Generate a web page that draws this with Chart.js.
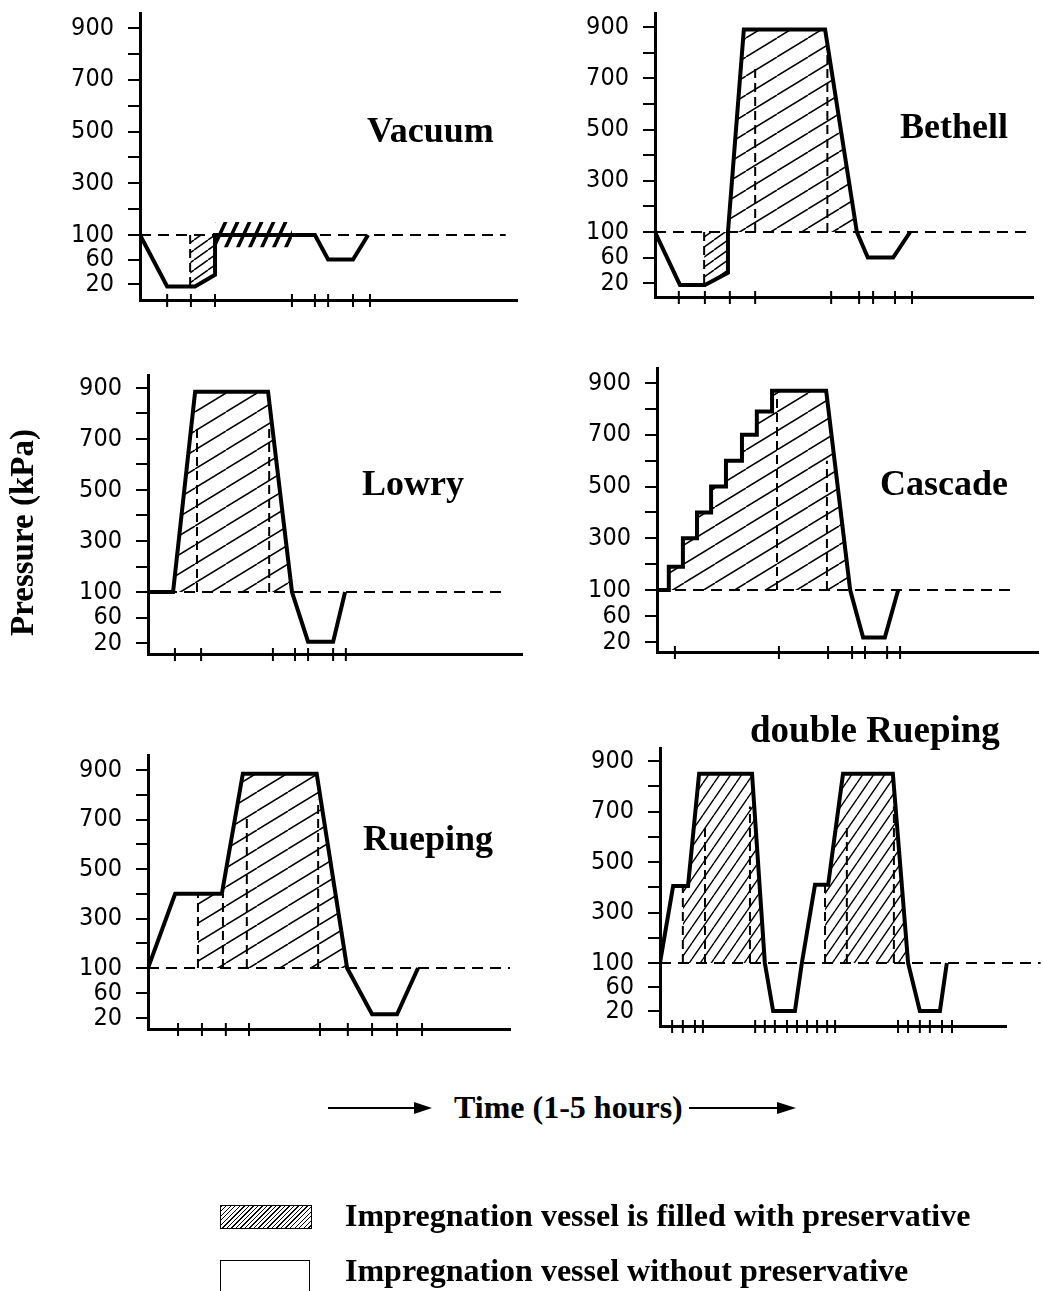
<!DOCTYPE html>
<html>
<head>
<meta charset="utf-8">
<script src="https://cdn.jsdelivr.net/npm/chart.js@4.4.1/dist/chart.umd.min.js"></script>
<style>
  body { margin: 0; background: #fff; }
  #page { position: relative; width: 1043px; height: 1291px; overflow: hidden; background: #fff; }
  #page canvas { position: absolute; }
  .txt { position: absolute; font-family: "Liberation Serif", "Times New Roman", serif; font-weight: bold; color: #000; white-space: nowrap; }
  .title { font-size: 36px; line-height: 36px; }
  .box { position: absolute; border: 1.5px solid #000; box-sizing: border-box; }
</style>
</head>
<body>
<div id="page">
  <div class="txt title" style="left:367px; top:112px;">Vacuum</div>
  <div class="txt title" style="left:900px; top:108px;">Bethell</div>
  <div class="txt title" style="left:362px; top:465px;">Lowry</div>
  <div class="txt title" style="left:880px; top:465px;">Cascade</div>
  <div class="txt title" style="left:363px; top:820px;">Rueping</div>
  <div class="txt title" style="left:750px; top:711px; font-size:37px; line-height:37px;">double Rueping</div>

  <div class="txt" style="left:-82px; top:516px; width:208px; font-size:33px; line-height:33px; text-align:center; transform:rotate(-90deg);">Pressure (kPa)</div>
  <div class="txt" style="left:454px; top:1091px; font-size:32px; line-height:32px;">Time (1-5 hours)</div>
  <svg style="position:absolute; left:0; top:0;" width="1043" height="1291">
    <line x1="328" y1="1108" x2="418" y2="1108" stroke="#000" stroke-width="2"/>
    <polygon points="414,1102 432,1108 414,1114" fill="#000"/>
    <line x1="689" y1="1108" x2="780" y2="1108" stroke="#000" stroke-width="2"/>
    <polygon points="777,1102 796,1108 777,1114" fill="#000"/>
  </svg>

  <div class="box" style="left:220px; top:1205px; width:92px; height:24px; background:repeating-linear-gradient(135deg, #000 0 1px, #fff 1px 3.2px);"></div>
  <div class="txt" style="left:345px; top:1199px; font-size:32px; line-height:32px;">Impregnation vessel is filled with preservative</div>
  <div class="box" style="left:220px; top:1260px; width:90px; height:45px;"></div>
  <div class="txt" style="left:345px; top:1254px; font-size:32px; line-height:32px;">Impregnation vessel without preservative</div>
</div>
<script>
// y axis: tick marks every 100 kPa plus 60 and 20, numbers only on some
var pressureTicks = [900, 800, 700, 600, 500, 400, 300, 200, 100, 60, 20];
var pressureLabels = [900, 700, 500, 300, 100, 60, 20];

// time runs 0..100 along each axis (schedule is schematic, 1-5 hours)
// Vacuum
var vacuumTime = [0, 7.2, 14.6, 19.9, 19.9, 46.4, 49.9, 56.5, 60.5];
var vacuumPressure = [100, 16, 16, 35, 100, 100, 60, 60, 100];
var vacuumFillTime = [13.3, 14.6, 19.9];
var vacuumFillPressure = [16, 16, 35];
var vacuumSurfaceTime = [19.9, 40.3];
var vacuumDashes = [[13.3, 16]];
var vacuumMarks = [7.2, 13.5, 19.9, 40.3, 46.4, 49.9, 56.5, 61.0];

// Bethell
var bethellTime = [0, 6.6, 13.2, 19.3, 19.3, 23.5, 45.0, 53.4, 56.3, 63.0, 67.5];
var bethellPressure = [100, 17, 17, 36, 100, 890, 890, 100, 60, 60, 100];
var bethellFillTime = [13.0, 13.2, 19.3];
var bethellFillPressure = [17, 17, 36];
var bethellPressTime = [19.3, 23.5, 45.0, 53.4];
var bethellPressPressure = [100, 890, 890, 100];
var bethellDashes = [[13.0, 17], [26.5, 740], [45.6, 840]];
var bethellMarks = [6.3, 13.2, 19.8, 26.5, 46.6, 54.0, 57.7, 63.5, 68.0];

// Lowry
var lowryTime = [0, 6.7, 12.6, 32.1, 38.5, 42.8, 49.5, 52.7];
var lowryPressure = [100, 100, 885, 885, 100, 22, 22, 100];
var lowryFillTime = [6.7, 12.6, 32.1, 38.5];
var lowryFillPressure = [100, 885, 885, 100];
var lowryDashes = [[13.1, 740], [32.4, 760]];
var lowryMarks = [7.2, 14.2, 33.4, 39.3, 42.8, 49.5, 52.9];

// Cascade
var cascadeTime = [0, 3.1, 3.1, 6.8, 6.8, 10.5, 10.5, 14.2, 14.2, 18.1, 18.1, 22.3, 22.3, 26.2, 26.2, 30.2, 30.2, 44.4, 50.7, 54.1, 59.8, 63.3];
var cascadePressure = [100, 100, 190, 190, 300, 300, 400, 400, 500, 500, 600, 600, 700, 700, 790, 790, 870, 870, 100, 27, 27, 100];
var cascadeFillTime = [3.1, 6.8, 6.8, 10.5, 10.5, 14.2, 14.2, 18.1, 18.1, 22.3, 22.3, 26.2, 26.2, 30.2, 30.2, 44.4, 50.7];
var cascadeFillPressure = [190, 190, 300, 300, 400, 400, 500, 500, 600, 600, 700, 700, 790, 790, 870, 870, 100];
var cascadeDashes = [[31.5, 860], [44.6, 600]];
var cascadeMarks = [4.7, 32.0, 44.9, 51.2, 54.6, 60.4, 63.8];

// Rueping
var ruepingTime = [0, 7.5, 20.4, 26.2, 46.6, 55.0, 61.9, 68.8, 74.6];
var ruepingPressure = [100, 400, 400, 885, 885, 100, 26, 26, 100];
var ruepingFillTime = [13.8, 20.4, 26.2, 46.6, 55.0];
var ruepingFillPressure = [400, 400, 885, 885, 100];
var ruepingDashes = [[13.8, 400], [20.7, 400], [27.3, 720], [47.0, 780]];
var ruepingMarks = [8.3, 14.9, 21.5, 27.9, 47.5, 55.2, 61.9, 68.8, 75.7];

// double Rueping
var doubleTime = [0, 3.8, 8.1, 11.3, 26.6, 30.3, 32.7, 39.0, 41.0, 44.8, 48.6, 52.9, 67.3, 71.7, 75.1, 80.9, 82.9];
var doublePressure = [100, 405, 405, 850, 850, 100, 20, 20, 100, 410, 410, 850, 850, 100, 20, 20, 100];
var doubleFill1Time = [6.6, 8.1, 11.3, 26.6, 30.3];
var doubleFill1Pressure = [405, 405, 850, 850, 100];
var doubleFill2Time = [47.7, 48.6, 52.9, 67.3, 71.7];
var doubleFill2Pressure = [410, 410, 850, 850, 100];
var doubleDashes = [[6.6, 405], [13.0, 650], [26.0, 720], [47.7, 410], [54.0, 650], [67.6, 720]];
var doubleMarks = [3.5, 6.6, 10.1, 12.4, 27.5, 30.3, 33.2, 36.7, 39.6, 42.5, 45.4, 48.3, 50.6, 68.8, 71.7, 75.1, 78.0, 81.5, 84.4];

// pressure scale: linear above 100 kPa, stretched below it so 60 and 20 have room
class PressureScale extends Chart.LinearScale {
  static id = 'pressure';
  static defaults = {};
  warp(v) {
    var k = this.options.lowStretch || 1;
    return v >= 100 ? v : 100 - (100 - v) * k;
  }
  unwarp(u) {
    var k = this.options.lowStretch || 1;
    return u >= 100 ? u : 100 - (100 - u) / k;
  }
  configure() {
    super.configure();
    this._startValue = this.warp(this.min);
    this._endValue = this.warp(this.max);
    this._valueRange = this._endValue - this._startValue;
  }
  getPixelForValue(v) {
    return v === null ? NaN : this.getPixelForDecimal((this.warp(v) - this._startValue) / this._valueRange);
  }
  getValueForPixel(px) {
    return this.unwarp(this._startValue + this.getDecimalForPixel(px) * this._valueRange);
  }
}
Chart.register(PressureScale);

// little tick strokes crossing the time axis
var timeMarks = {
  id: 'timeMarks',
  afterDatasetsDraw: function(chart, args, opts) {
    var xs = chart.scales.x, y0 = chart.chartArea.bottom, ctx = chart.ctx;
    ctx.save();
    ctx.strokeStyle = '#000';
    ctx.lineWidth = 2;
    (opts.marks || []).forEach(function(t) {
      var px = xs.getPixelForValue(t);
      ctx.beginPath();
      ctx.moveTo(px, y0 - 6);
      ctx.lineTo(px, y0 + 7);
      ctx.stroke();
    });
    ctx.restore();
  }
};

function hatch(w, h, lw) { // diagonal "/" hatching tile
  var c = document.createElement('canvas');
  c.width = w; c.height = h;
  var g = c.getContext('2d');
  g.strokeStyle = '#000';
  g.lineWidth = lw;
  g.beginPath();
  [-w, 0, w].forEach(function(dx) { g.moveTo(dx, h); g.lineTo(dx + w, 0); });
  g.stroke();
  return g.createPattern(c, 'repeat');
}

function pts(xs, ys) {
  return xs.map(function(x, i) { return {x: x, y: ys[i]}; });
}

function dashPts(list) {
  var out = [];
  list.forEach(function(d) {
    out.push({x: d[0], y: 100}, {x: d[0], y: d[1]}, {x: d[0], y: null});
  });
  return out;
}

var wide = hatch(31, 19, 1.5);
var fine = hatch(14, 10, 1.5);
var steep = hatch(11, 16, 1.4);
var surface = hatch(12, 26, 3.5);

// canvas box [left, top, w, h], plot area [left, top, right, bottom], pixel rows of 900/100/20
var panels = [
  {box: [40, 0, 500, 320], area: [140, 13, 517, 300], y900: 28, y100: 235, y20: 284, ref: 97,
   time: vacuumTime, pressure: vacuumPressure, dashes: vacuumDashes, marks: vacuumMarks,
   fills: [{time: vacuumFillTime, pressure: vacuumFillPressure, pattern: fine},
           {time: vacuumSurfaceTime, pressure: [150, 150], base: 80, pattern: surface}]},
  {box: [560, 0, 483, 320], area: [655, 13, 1033, 297], y900: 27, y100: 232, y20: 283, ref: 98.4,
   time: bethellTime, pressure: bethellPressure, dashes: bethellDashes, marks: bethellMarks,
   fills: [{time: bethellFillTime, pressure: bethellFillPressure, pattern: fine},
           {time: bethellPressTime, pressure: bethellPressPressure, pattern: wide}]},
  {box: [40, 355, 500, 320], area: [148, 375, 522, 654], y900: 388, y100: 592, y20: 643, ref: 96,
   time: lowryTime, pressure: lowryPressure, dashes: lowryDashes, marks: lowryMarks,
   fills: [{time: lowryFillTime, pressure: lowryFillPressure, pattern: wide}]},
  {box: [560, 355, 483, 320], area: [657, 368, 1038, 652], y900: 383, y100: 590, y20: 642, ref: 94,
   time: cascadeTime, pressure: cascadePressure, dashes: cascadeDashes, marks: cascadeMarks,
   fills: [{time: cascadeFillTime, pressure: cascadeFillPressure, pattern: wide}]},
  {box: [40, 735, 500, 320], area: [148, 755, 510, 1029], y900: 770, y100: 968, y20: 1018, ref: 100,
   time: ruepingTime, pressure: ruepingPressure, dashes: ruepingDashes, marks: ruepingMarks,
   fills: [{time: ruepingFillTime, pressure: ruepingFillPressure, pattern: wide}]},
  {box: [560, 735, 483, 320], area: [660, 748, 1006, 1026], y900: 761, y100: 963, y20: 1011, ref: 110,
   time: doubleTime, pressure: doublePressure, dashes: doubleDashes, marks: doubleMarks,
   fills: [{time: doubleFill1Time, pressure: doubleFill1Pressure, pattern: steep},
           {time: doubleFill2Time, pressure: doubleFill2Pressure, pattern: steep}]}
];

function drawPanel(p) {
  var cv = document.createElement('canvas');
  cv.width = p.box[2];
  cv.height = p.box[3];
  cv.style.left = p.box[0] + 'px';
  cv.style.top = p.box[1] + 'px';
  document.getElementById('page').insertBefore(cv, document.getElementById('page').firstChild);

  var s = (p.y100 - p.y900) / 800;          // px per kPa above 100
  var k = (p.y20 - p.y100) / 80 / s;        // stretch below 100
  var yMax = 900 + (p.y900 - p.area[1]) / s;
  var yMin = 20 - (p.area[3] - p.y20) / (s * k);

  var datasets = [{
    data: pts(p.time, p.pressure), borderColor: '#000', borderWidth: 4,
    borderJoinStyle: 'miter', fill: false, order: 0
  }, {
    data: dashPts(p.dashes), borderColor: '#000', borderWidth: 2,
    borderDash: [9, 5], fill: false, spanGaps: false, order: 1
  }, {
    data: [{x: 0, y: 100}, {x: p.ref, y: 100}], borderColor: '#000', borderWidth: 2,
    borderDash: [11, 7], fill: false, clip: false, order: 2
  }];
  p.fills.forEach(function(f) {
    datasets.push({
      data: pts(f.time, f.pressure), borderColor: 'rgba(0,0,0,0)', borderWidth: 0,
      backgroundColor: f.pattern, fill: {value: f.base || 100}, order: 3
    });
  });

  new Chart(cv.getContext('2d'), {
    type: 'line',
    data: {datasets: datasets},
    plugins: [timeMarks],
    options: {
      responsive: false,
      animation: false,
      events: [],
      layout: {padding: {
        left: 0,
        top: p.area[1] - p.box[1],
        right: p.box[0] + p.box[2] - p.area[2],
        bottom: p.box[1] + p.box[3] - p.area[3]
      }},
      elements: {point: {radius: 0}, line: {tension: 0}},
      plugins: {legend: {display: false}, tooltip: {enabled: false}, timeMarks: {marks: p.marks}},
      scales: {
        x: {
          type: 'linear', min: 0, max: 100,
          ticks: {display: false},
          grid: {display: false, drawTicks: false},
          border: {display: true, color: '#000', width: 3},
          afterFit: function(sc) { sc.height = 0; sc.paddingLeft = 0; sc.paddingRight = 0; }
        },
        y: {
          type: 'pressure', position: 'left', min: yMin, max: yMax, lowStretch: k, bounds: 'data',
          afterBuildTicks: function(sc) { sc.ticks = pressureTicks.map(function(v) { return {value: v}; }); },
          afterFit: function(sc) { sc.width = p.area[0] - p.box[0]; sc.paddingTop = 0; sc.paddingBottom = 0; },
          ticks: {
            autoSkip: false, color: '#000', padding: 14,
            font: {family: "'Liberation Sans Narrow', 'DejaVu Sans Condensed', sans-serif", size: 25},
            callback: function(v) { return pressureLabels.indexOf(v) >= 0 ? String(v) : ''; }
          },
          grid: {drawOnChartArea: false, color: '#000', lineWidth: 2, tickLength: 12},
          border: {color: '#000', width: 3}
        }
      }
    }
  });
}

window.onload = function() {
  panels.forEach(drawPanel);
};
</script>
</body>
</html>
